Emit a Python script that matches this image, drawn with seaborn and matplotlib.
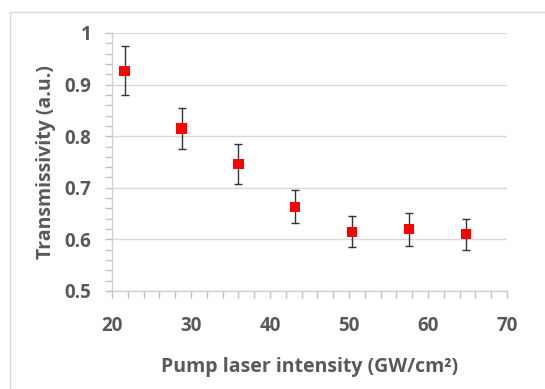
import numpy as np
import pandas as pd
import seaborn as sns
import matplotlib.pyplot as plt
from matplotlib.lines import Line2D
from matplotlib.ticker import MultipleLocator

# données
intensity = [21.6, 28.8, 36.0, 43.2, 50.4, 57.6, 64.8]
transmissivity = [0.927, 0.815, 0.746, 0.663, 0.615, 0.620, 0.610]
error = [0.047, 0.040, 0.038, 0.032, 0.030, 0.032, 0.030]

df = pd.DataFrame({"x": intensity, "y": transmissivity, "err": error})

sns.set_style("white")
plt.rcParams['font.family'] = ['Open Sans', 'DejaVu Sans']

gray = "#595959"
fig = plt.figure(figsize=(5.45, 3.89), dpi=100)
ax = fig.add_axes([112 / 545, 1 - 291 / 389, 395 / 545, 258 / 389])

ax.errorbar(df["x"], df["y"], yerr=df["err"], fmt="none", ecolor="#333333",
            elinewidth=1.0, capsize=3, capthick=1.0, zorder=2)
sns.scatterplot(data=df, x="x", y="y", marker="s", s=55, color="#ff0000",
                edgecolor="none", linewidth=0, ax=ax, zorder=3)

ax.set_xlim(20, 70)
ax.set_ylim(0.5, 1.0)
ax.xaxis.set_major_locator(MultipleLocator(10))
ax.xaxis.set_minor_locator(MultipleLocator(2))
ax.yaxis.set_major_locator(MultipleLocator(0.1))
ax.yaxis.set_minor_locator(MultipleLocator(0.02))
ax.set_yticks([0.5, 0.6, 0.7, 0.8, 0.9, 1.0])
ax.set_yticklabels(["0.5", "0.6", "0.7", "0.8", "0.9", "1"])

ax.grid(axis="y", which="major", color="#d9d9d9", linewidth=1.0)
for s in ["top", "right"]:
    ax.spines[s].set_visible(False)
for s in ["left", "bottom"]:
    ax.spines[s].set_color("#d0d0d0")
    ax.spines[s].set_linewidth(1.0)

ax.tick_params(axis="both", which="both", direction="out", color="#bfbfbf",
               width=1.0, length=5, left=True, bottom=True)
ax.tick_params(axis="y", which="major", pad=10, labelsize=13.5, labelcolor=gray)
ax.tick_params(axis="x", which="major", pad=13, labelsize=13.5, labelcolor=gray)
for lab in ax.get_xticklabels() + ax.get_yticklabels():
    lab.set_fontweight("bold")

ax.set_xlabel("Pump laser intensity (GW/cm²)", fontsize=14, fontweight="bold",
              color=gray, labelpad=15)
ax.set_ylabel("Transmissivity (a.u.)", fontsize=14, fontweight="bold",
              color=gray, labelpad=6)

# cadre du graphique
fig.add_artist(Line2D([10 / 545, 10 / 545], [0, 1 - 12 / 389], transform=fig.transFigure,
                      color="#d9d9d9", linewidth=1.0))
fig.add_artist(Line2D([10 / 545, 1], [1 - 12 / 389, 1 - 12 / 389], transform=fig.transFigure,
                      color="#d9d9d9", linewidth=1.0))

fig.savefig("out.png", dpi=100)
